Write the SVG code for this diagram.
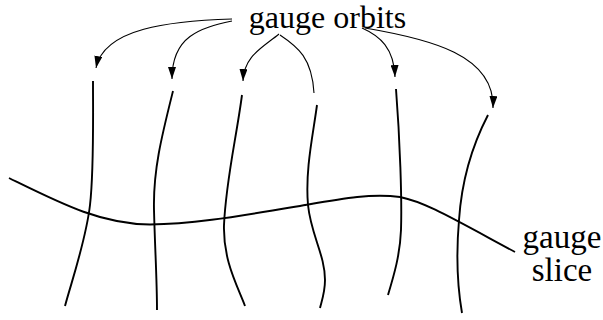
<svg xmlns="http://www.w3.org/2000/svg" width="603" height="320" viewBox="0 0 603 320">
<style>
.curve{fill:none;stroke:#000;stroke-width:1.9;stroke-linecap:butt}
.arrow{fill:none;stroke:#000;stroke-width:1.1}
.lbl{font-family:"Liberation Serif","Times New Roman",serif;font-size:33px;fill:#000;text-anchor:middle}
</style>
<defs>
<marker id="ah" markerUnits="userSpaceOnUse" viewBox="0 0 12 8" refX="12" refY="4" markerWidth="12" markerHeight="8" orient="auto">
<path d="M0,0 L12,4 L0,8 z" fill="#000"/>
</marker>
</defs>
<g id="orbits">
<path id="orbit1" class="curve" d="M93,81 C93,120 94,170 90,205 C86,240 72,280 65,306"/>
<path id="orbit2" class="curve" d="M173,91 C162,135 153,170 154,210 C155,250 157,280 157,310"/>
<path id="orbit3" class="curve" d="M242,95 C236,140 226,180 224,225 C223,260 237,285 245,306"/>
<path id="orbit4" class="curve" d="M317,105 C313,135 305,170 308,205 C311,235 325,255 325,280 C325,292 322,300 320,308"/>
<path id="orbit5" class="curve" d="M396,89 C400,140 402,200 401,230 C400,255 394,275 388,295"/>
<path id="orbit6" class="curve" d="M488,115 C475,140 462,175 459,220 C456,255 458,290 462,313"/>
</g>
<g id="slice">
<path class="curve" d="M9,178 C60,203 100,224 150,224.5 C200,224 255,213 300,206 C340,199 370,193 400,197 C425,202 450,217 515,252"/>
</g>
<g id="label-orbits">
<text class="lbl" x="327.5" y="28" style="font-size:32px">gauge orbits</text>
</g>
<g id="label-slice">
<text class="lbl" x="562" y="248">gauge</text>
<text class="lbl" x="562" y="281">slice</text>
</g>
<g id="connectors">
<path class="arrow" marker-end="url(#ah)" d="M232,19 C170,21 104,28 96,68"/>
<path class="arrow" marker-end="url(#ah)" d="M232,21 C200,28 172,36 172,79"/>
<path class="arrow" marker-end="url(#ah)" d="M279,34 C262,48 244,56 243,81"/>
<path class="arrow" d="M280,35 C298,47 312,58 314,93"/>
<path class="arrow" marker-end="url(#ah)" d="M362,28 C380,36 394,48 395,77"/>
<path class="arrow" marker-end="url(#ah)" d="M365,28 C430,39 495,55 493,108"/>
</g>
</svg>
